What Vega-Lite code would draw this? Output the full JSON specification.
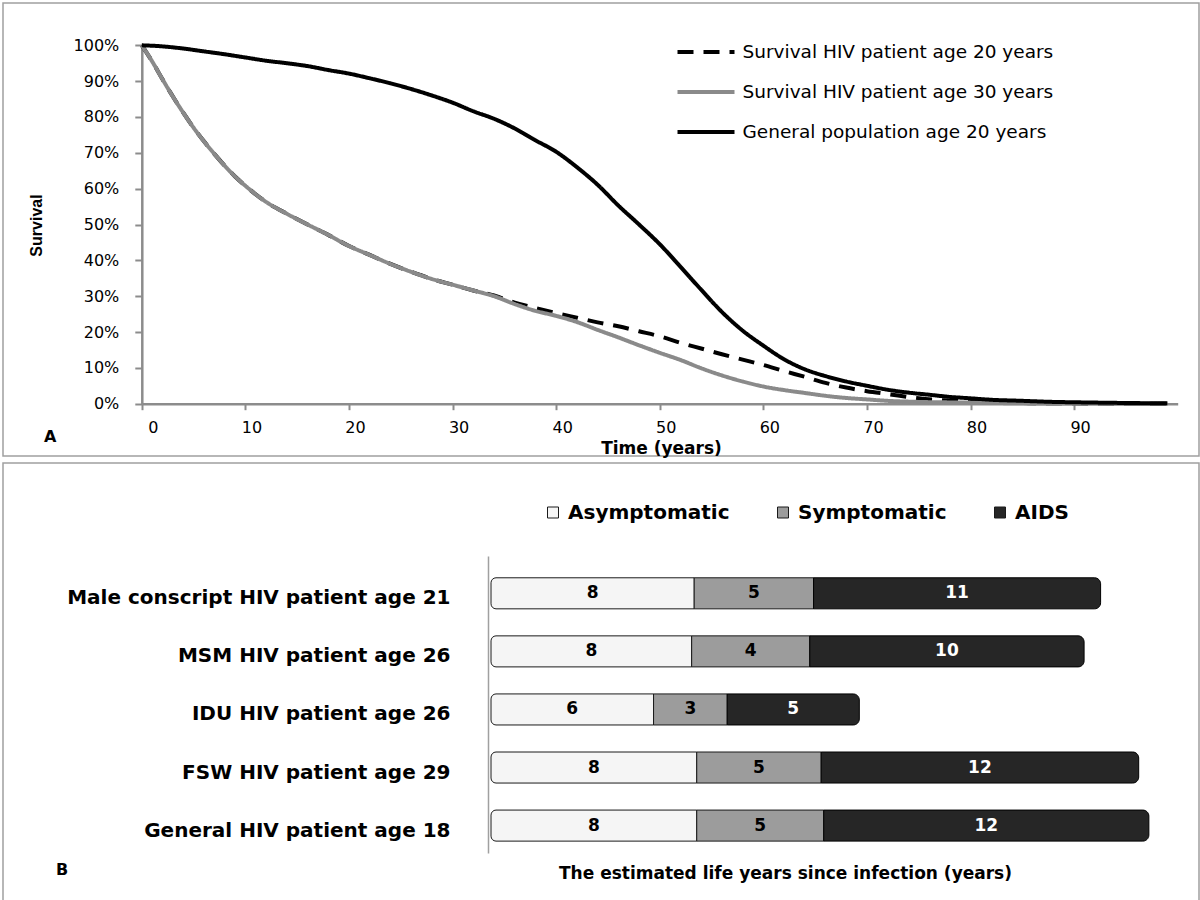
{
  "$schema": "https://vega.github.io/schema/vega-lite/v6.json",
  "background": "white",
  "padding": {"left": 2, "top": 2, "right": 0, "bottom": 0},
  "spacing": 5,
  "config": {
    "view": {"stroke": "#a0a0a0", "strokeWidth": 1.5},
    "axis": {"grid": false, "labelColor": "#000000", "titleColor": "#000000"},
    "legend": {"padding": 0}
  },
  "resolve": {"scale": {"x": "independent", "y": "independent"}},
  "vconcat": [
    {
      "width": 1196,
      "height": 453,
      "title": {"text": "A", "orient": "bottom", "anchor": "start", "frame": "group", "offset": 0, "dx": 41, "dy": -27, "font": "DejaVu Sans", "fontSize": 16, "fontWeight": "bold", "color": "#000000"},
      "data": {"values": [
        {"series": "Survival HIV patient age 20 years", "t": 0, "s": 1.0},
        {"series": "Survival HIV patient age 20 years", "t": 1, "s": 0.955},
        {"series": "Survival HIV patient age 20 years", "t": 2, "s": 0.905},
        {"series": "Survival HIV patient age 20 years", "t": 3, "s": 0.857},
        {"series": "Survival HIV patient age 20 years", "t": 4, "s": 0.812},
        {"series": "Survival HIV patient age 20 years", "t": 5, "s": 0.77},
        {"series": "Survival HIV patient age 20 years", "t": 6, "s": 0.732},
        {"series": "Survival HIV patient age 20 years", "t": 7, "s": 0.697},
        {"series": "Survival HIV patient age 20 years", "t": 8, "s": 0.664},
        {"series": "Survival HIV patient age 20 years", "t": 9, "s": 0.634},
        {"series": "Survival HIV patient age 20 years", "t": 10, "s": 0.608},
        {"series": "Survival HIV patient age 20 years", "t": 12, "s": 0.563},
        {"series": "Survival HIV patient age 20 years", "t": 14, "s": 0.53},
        {"series": "Survival HIV patient age 20 years", "t": 16, "s": 0.5},
        {"series": "Survival HIV patient age 20 years", "t": 18, "s": 0.471},
        {"series": "Survival HIV patient age 20 years", "t": 20, "s": 0.44},
        {"series": "Survival HIV patient age 20 years", "t": 22, "s": 0.415},
        {"series": "Survival HIV patient age 20 years", "t": 24, "s": 0.39},
        {"series": "Survival HIV patient age 20 years", "t": 26, "s": 0.368},
        {"series": "Survival HIV patient age 20 years", "t": 28, "s": 0.348},
        {"series": "Survival HIV patient age 20 years", "t": 30, "s": 0.332},
        {"series": "Survival HIV patient age 20 years", "t": 32, "s": 0.316},
        {"series": "Survival HIV patient age 20 years", "t": 34, "s": 0.302},
        {"series": "Survival HIV patient age 20 years", "t": 36, "s": 0.282},
        {"series": "Survival HIV patient age 20 years", "t": 38, "s": 0.267},
        {"series": "Survival HIV patient age 20 years", "t": 40, "s": 0.253},
        {"series": "Survival HIV patient age 20 years", "t": 42, "s": 0.24},
        {"series": "Survival HIV patient age 20 years", "t": 44, "s": 0.227},
        {"series": "Survival HIV patient age 20 years", "t": 46, "s": 0.216},
        {"series": "Survival HIV patient age 20 years", "t": 48, "s": 0.202},
        {"series": "Survival HIV patient age 20 years", "t": 50, "s": 0.188},
        {"series": "Survival HIV patient age 20 years", "t": 52, "s": 0.17},
        {"series": "Survival HIV patient age 20 years", "t": 54, "s": 0.154},
        {"series": "Survival HIV patient age 20 years", "t": 56, "s": 0.138},
        {"series": "Survival HIV patient age 20 years", "t": 58, "s": 0.123},
        {"series": "Survival HIV patient age 20 years", "t": 60, "s": 0.108},
        {"series": "Survival HIV patient age 20 years", "t": 62, "s": 0.091},
        {"series": "Survival HIV patient age 20 years", "t": 64, "s": 0.075},
        {"series": "Survival HIV patient age 20 years", "t": 66, "s": 0.058},
        {"series": "Survival HIV patient age 20 years", "t": 68, "s": 0.045},
        {"series": "Survival HIV patient age 20 years", "t": 70, "s": 0.035},
        {"series": "Survival HIV patient age 20 years", "t": 72, "s": 0.027},
        {"series": "Survival HIV patient age 20 years", "t": 75, "s": 0.015},
        {"series": "Survival HIV patient age 20 years", "t": 80, "s": 0.006},
        {"series": "Survival HIV patient age 20 years", "t": 85, "s": 0.002},
        {"series": "Survival HIV patient age 20 years", "t": 90, "s": 0.001},
        {"series": "Survival HIV patient age 20 years", "t": 95, "s": 0.0},
        {"series": "Survival HIV patient age 20 years", "t": 99, "s": 0.0},
        {"series": "Survival HIV patient age 30 years", "t": 0, "s": 1.0},
        {"series": "Survival HIV patient age 30 years", "t": 1, "s": 0.955},
        {"series": "Survival HIV patient age 30 years", "t": 2, "s": 0.905},
        {"series": "Survival HIV patient age 30 years", "t": 3, "s": 0.857},
        {"series": "Survival HIV patient age 30 years", "t": 4, "s": 0.812},
        {"series": "Survival HIV patient age 30 years", "t": 5, "s": 0.77},
        {"series": "Survival HIV patient age 30 years", "t": 6, "s": 0.732},
        {"series": "Survival HIV patient age 30 years", "t": 7, "s": 0.697},
        {"series": "Survival HIV patient age 30 years", "t": 8, "s": 0.664},
        {"series": "Survival HIV patient age 30 years", "t": 9, "s": 0.634},
        {"series": "Survival HIV patient age 30 years", "t": 10, "s": 0.608},
        {"series": "Survival HIV patient age 30 years", "t": 12, "s": 0.563},
        {"series": "Survival HIV patient age 30 years", "t": 14, "s": 0.53},
        {"series": "Survival HIV patient age 30 years", "t": 16, "s": 0.5},
        {"series": "Survival HIV patient age 30 years", "t": 18, "s": 0.471},
        {"series": "Survival HIV patient age 30 years", "t": 20, "s": 0.44},
        {"series": "Survival HIV patient age 30 years", "t": 22, "s": 0.415},
        {"series": "Survival HIV patient age 30 years", "t": 24, "s": 0.39},
        {"series": "Survival HIV patient age 30 years", "t": 26, "s": 0.368},
        {"series": "Survival HIV patient age 30 years", "t": 28, "s": 0.348},
        {"series": "Survival HIV patient age 30 years", "t": 30, "s": 0.332},
        {"series": "Survival HIV patient age 30 years", "t": 32, "s": 0.316},
        {"series": "Survival HIV patient age 30 years", "t": 34, "s": 0.3},
        {"series": "Survival HIV patient age 30 years", "t": 36, "s": 0.278},
        {"series": "Survival HIV patient age 30 years", "t": 38, "s": 0.259},
        {"series": "Survival HIV patient age 30 years", "t": 40, "s": 0.245},
        {"series": "Survival HIV patient age 30 years", "t": 42, "s": 0.228},
        {"series": "Survival HIV patient age 30 years", "t": 44, "s": 0.206},
        {"series": "Survival HIV patient age 30 years", "t": 46, "s": 0.185},
        {"series": "Survival HIV patient age 30 years", "t": 48, "s": 0.163},
        {"series": "Survival HIV patient age 30 years", "t": 50, "s": 0.142},
        {"series": "Survival HIV patient age 30 years", "t": 52, "s": 0.122},
        {"series": "Survival HIV patient age 30 years", "t": 54, "s": 0.099},
        {"series": "Survival HIV patient age 30 years", "t": 56, "s": 0.079},
        {"series": "Survival HIV patient age 30 years", "t": 58, "s": 0.062},
        {"series": "Survival HIV patient age 30 years", "t": 60, "s": 0.048},
        {"series": "Survival HIV patient age 30 years", "t": 62, "s": 0.038},
        {"series": "Survival HIV patient age 30 years", "t": 64, "s": 0.03},
        {"series": "Survival HIV patient age 30 years", "t": 66, "s": 0.022},
        {"series": "Survival HIV patient age 30 years", "t": 68, "s": 0.016},
        {"series": "Survival HIV patient age 30 years", "t": 70, "s": 0.012},
        {"series": "Survival HIV patient age 30 years", "t": 72, "s": 0.008},
        {"series": "Survival HIV patient age 30 years", "t": 75, "s": 0.005},
        {"series": "Survival HIV patient age 30 years", "t": 80, "s": 0.003},
        {"series": "Survival HIV patient age 30 years", "t": 85, "s": 0.001},
        {"series": "Survival HIV patient age 30 years", "t": 90, "s": 0.0005},
        {"series": "Survival HIV patient age 30 years", "t": 95, "s": 0.0},
        {"series": "Survival HIV patient age 30 years", "t": 99, "s": 0.0},
        {"series": "General population age 20 years", "t": 0, "s": 1.0},
        {"series": "General population age 20 years", "t": 2, "s": 0.997},
        {"series": "General population age 20 years", "t": 4, "s": 0.991},
        {"series": "General population age 20 years", "t": 6, "s": 0.983},
        {"series": "General population age 20 years", "t": 8, "s": 0.975},
        {"series": "General population age 20 years", "t": 10, "s": 0.966},
        {"series": "General population age 20 years", "t": 12, "s": 0.957},
        {"series": "General population age 20 years", "t": 14, "s": 0.95},
        {"series": "General population age 20 years", "t": 16, "s": 0.942},
        {"series": "General population age 20 years", "t": 18, "s": 0.931},
        {"series": "General population age 20 years", "t": 20, "s": 0.921},
        {"series": "General population age 20 years", "t": 22, "s": 0.908},
        {"series": "General population age 20 years", "t": 24, "s": 0.894},
        {"series": "General population age 20 years", "t": 26, "s": 0.878},
        {"series": "General population age 20 years", "t": 28, "s": 0.86},
        {"series": "General population age 20 years", "t": 30, "s": 0.84},
        {"series": "General population age 20 years", "t": 32, "s": 0.816},
        {"series": "General population age 20 years", "t": 34, "s": 0.795},
        {"series": "General population age 20 years", "t": 36, "s": 0.768},
        {"series": "General population age 20 years", "t": 38, "s": 0.735},
        {"series": "General population age 20 years", "t": 40, "s": 0.703},
        {"series": "General population age 20 years", "t": 42, "s": 0.66},
        {"series": "General population age 20 years", "t": 44, "s": 0.611},
        {"series": "General population age 20 years", "t": 46, "s": 0.553},
        {"series": "General population age 20 years", "t": 48, "s": 0.5},
        {"series": "General population age 20 years", "t": 50, "s": 0.445},
        {"series": "General population age 20 years", "t": 52, "s": 0.382},
        {"series": "General population age 20 years", "t": 54, "s": 0.318},
        {"series": "General population age 20 years", "t": 56, "s": 0.256},
        {"series": "General population age 20 years", "t": 58, "s": 0.204},
        {"series": "General population age 20 years", "t": 60, "s": 0.162},
        {"series": "General population age 20 years", "t": 62, "s": 0.124},
        {"series": "General population age 20 years", "t": 64, "s": 0.096},
        {"series": "General population age 20 years", "t": 66, "s": 0.077},
        {"series": "General population age 20 years", "t": 68, "s": 0.062},
        {"series": "General population age 20 years", "t": 70, "s": 0.05},
        {"series": "General population age 20 years", "t": 72, "s": 0.039},
        {"series": "General population age 20 years", "t": 74, "s": 0.031},
        {"series": "General population age 20 years", "t": 76, "s": 0.025},
        {"series": "General population age 20 years", "t": 78, "s": 0.019},
        {"series": "General population age 20 years", "t": 80, "s": 0.015},
        {"series": "General population age 20 years", "t": 82, "s": 0.011},
        {"series": "General population age 20 years", "t": 85, "s": 0.008},
        {"series": "General population age 20 years", "t": 88, "s": 0.005},
        {"series": "General population age 20 years", "t": 90, "s": 0.004},
        {"series": "General population age 20 years", "t": 95, "s": 0.002},
        {"series": "General population age 20 years", "t": 99, "s": 0.001}
      ]},
      "mark": {"type": "line", "strokeWidth": 4, "interpolate": "monotone", "strokeCap": "butt"},
      "encoding": {
        "x": {
          "field": "t", "type": "quantitative",
          "scale": {"domain": [0, 100], "range": [138.8, 1174.7], "nice": false, "zero": false},
          "axis": {
            "values": [0, 10, 20, 30, 40, 50, 60, 70, 80, 90],
            "offset": -52.3,
            "domainColor": "#8c8c8c", "domainWidth": 2.5,
            "tickColor": "#8c8c8c", "tickWidth": 2, "tickSize": 6,
            "labelFont": "DejaVu Sans", "labelFontSize": 16, "labelPadding": 10, "labelOffset": 6,
            "title": "Time (years)", "titleFont": "DejaVu Sans", "titleFontSize": 17, "titleFontWeight": "bold",
            "titleX": 658, "titleY": 44.5, "titleBaseline": "middle", "titleAlign": "center"
          }
        },
        "y": {
          "field": "s", "type": "quantitative",
          "scale": {"domain": [0, 1], "range": [400.7, 42.3], "nice": false, "zero": false},
          "axis": {
            "values": [0, 0.1, 0.2, 0.3, 0.4, 0.5, 0.6, 0.7, 0.8, 0.9, 1.0],
            "format": ".0%",
            "offset": -138.8,
            "domainColor": "#8c8c8c", "domainWidth": 2.5,
            "tickColor": "#8c8c8c", "tickWidth": 2, "tickSize": 7,
            "labelFont": "DejaVu Sans", "labelFontSize": 16, "labelPadding": 16,
            "title": "Survival", "titleFont": "Liberation Sans", "titleFontSize": 16, "titleFontWeight": "bold",
            "titleX": -105.8, "titleY": 222, "titleAlign": "center", "titleBaseline": "middle"
          }
        },
        "stroke": {
          "field": "series", "type": "nominal",
          "scale": {"domain": ["Survival HIV patient age 20 years", "Survival HIV patient age 30 years", "General population age 20 years"], "range": ["#000000", "#8a8a8a", "#000000"]},
          "legend": {"title": null, "orient": "none", "legendX": 672.5, "legendY": 18.5, "direction": "vertical", "symbolType": "stroke", "symbolSize": 3249, "symbolStrokeWidth": 4, "labelFont": "DejaVu Sans", "labelFontSize": 18.5, "labelColor": "#000000", "labelOffset": 6, "rowPadding": -18.5, "labelLimit": 500}
        },
        "strokeDash": {
          "field": "series", "type": "nominal",
          "scale": {"domain": ["Survival HIV patient age 20 years", "Survival HIV patient age 30 years", "General population age 20 years"], "range": [[16, 10], [1, 0], [1, 0]]},
          "legend": {"title": null, "orient": "none", "legendX": 672.5, "legendY": 18.5, "direction": "vertical", "symbolType": "stroke", "symbolSize": 3249, "symbolStrokeWidth": 4, "labelFont": "DejaVu Sans", "labelFontSize": 18.5, "labelColor": "#000000", "labelOffset": 6, "rowPadding": -18.5, "labelLimit": 500}
        }
      }
    },
    {
      "width": 1196,
      "height": 438,
      "title": {"text": "B", "orient": "bottom", "anchor": "start", "frame": "group", "offset": 0, "dx": 53, "dy": -39, "font": "DejaVu Sans", "fontSize": 16, "fontWeight": "bold", "color": "#000000"},
      "data": {"values": [
        {"group": "Male conscript HIV patient age 21", "stage": "Asymptomatic", "years": 8.0, "label": "8"},
        {"group": "Male conscript HIV patient age 21", "stage": "Symptomatic", "years": 4.7, "label": "5"},
        {"group": "Male conscript HIV patient age 21", "stage": "AIDS", "years": 11.3, "label": "11"},
        {"group": "MSM HIV patient age 26", "stage": "Asymptomatic", "years": 7.9, "label": "8"},
        {"group": "MSM HIV patient age 26", "stage": "Symptomatic", "years": 4.65, "label": "4"},
        {"group": "MSM HIV patient age 26", "stage": "AIDS", "years": 10.8, "label": "10"},
        {"group": "IDU HIV patient age 26", "stage": "Asymptomatic", "years": 6.4, "label": "6"},
        {"group": "IDU HIV patient age 26", "stage": "Symptomatic", "years": 2.9, "label": "3"},
        {"group": "IDU HIV patient age 26", "stage": "AIDS", "years": 5.2, "label": "5"},
        {"group": "FSW HIV patient age 29", "stage": "Asymptomatic", "years": 8.1, "label": "8"},
        {"group": "FSW HIV patient age 29", "stage": "Symptomatic", "years": 4.9, "label": "5"},
        {"group": "FSW HIV patient age 29", "stage": "AIDS", "years": 12.5, "label": "12"},
        {"group": "General HIV patient age 18", "stage": "Asymptomatic", "years": 8.1, "label": "8"},
        {"group": "General HIV patient age 18", "stage": "Symptomatic", "years": 5.0, "label": "5"},
        {"group": "General HIV patient age 18", "stage": "AIDS", "years": 12.8, "label": "12"}
      ]},
      "transform": [{"stack": "years", "groupby": ["group"], "as": ["x0", "x1"]}],
      "encoding": {
        "y": {
          "field": "group", "type": "nominal",
          "scale": {"type": "band", "domain": ["Male conscript HIV patient age 21", "MSM HIV patient age 26", "IDU HIV patient age 26", "FSW HIV patient age 29", "General HIV patient age 18"], "range": [93, 390], "paddingInner": 0.4655, "paddingOuter": 0.29, "align": 0.647},
          "axis": {"title": null, "offset": -485, "domainColor": "#a0a0a0", "domainWidth": 1.5, "ticks": false, "tickSize": 0, "labelFont": "DejaVu Sans", "labelFontWeight": "bold", "labelFontSize": 20, "labelPadding": 38, "labelOffset": 5, "labelLimit": 1000}
        }
      },
      "layer": [
        {
          "transform": [{"filter": "datum.stage === 'Asymptomatic'"}],
          "mark": {"type": "bar", "stroke": "#1a1a1a", "strokeWidth": 1, "cornerRadiusTopLeft": 5, "cornerRadiusBottomLeft": 5},
          "encoding": {
            "x": {
              "field": "x0", "type": "quantitative",
              "scale": {"domain": [0, 28], "range": [488, 1199.2], "nice": false, "zero": false},
              "axis": {"domain": false, "ticks": false, "labels": false, "title": "The estimated life years since infection (years)", "titleFont": "DejaVu Sans", "titleFontSize": 17, "titleFontWeight": "bold", "titleX": 782, "titleY": -28, "titleBaseline": "middle", "titleAlign": "center"}
            },
            "x2": {"field": "x1"},
            "fill": {"field": "stage", "type": "nominal",
              "scale": {"domain": ["Asymptomatic", "Symptomatic", "AIDS"], "range": ["#f5f5f5", "#9c9c9c", "#262626"]},
              "legend": {"title": null, "orient": "none", "direction": "horizontal", "columns": 3, "legendX": 540, "legendY": 499.5, "symbolType": "square", "symbolSize": 121, "symbolStrokeColor": "#000000", "symbolStrokeWidth": 1, "labelFont": "DejaVu Sans", "labelFontWeight": "bold", "labelFontSize": 20, "labelColor": "#000000", "labelOffset": 5, "columnPadding": 43, "labelLimit": 400}}
          }
        },
        {
          "transform": [{"filter": "datum.stage === 'Symptomatic'"}],
          "mark": {"type": "bar", "stroke": "#1a1a1a", "strokeWidth": 1},
          "encoding": {
            "x": {"field": "x0", "type": "quantitative", "title": "The estimated life years since infection (years)"},
            "x2": {"field": "x1"},
            "fill": {"field": "stage", "type": "nominal",
              "scale": {"domain": ["Asymptomatic", "Symptomatic", "AIDS"], "range": ["#f5f5f5", "#9c9c9c", "#262626"]}}
          }
        },
        {
          "transform": [{"filter": "datum.stage === 'AIDS'"}],
          "mark": {"type": "bar", "stroke": "#000000", "strokeWidth": 1, "cornerRadiusTopRight": 6, "cornerRadiusBottomRight": 6},
          "encoding": {
            "x": {"field": "x0", "type": "quantitative", "title": "The estimated life years since infection (years)"},
            "x2": {"field": "x1"},
            "fill": {"field": "stage", "type": "nominal",
              "scale": {"domain": ["Asymptomatic", "Symptomatic", "AIDS"], "range": ["#f5f5f5", "#9c9c9c", "#262626"]}}
          }
        },
        {
          "transform": [{"fold": ["x0", "x1"], "as": ["edge", "pos"]}],
          "mark": {"type": "text", "font": "DejaVu Sans", "fontSize": 17, "fontWeight": "bold", "baseline": "middle", "align": "center"},
          "encoding": {
            "x": {"aggregate": "mean", "field": "pos", "type": "quantitative", "title": "The estimated life years since infection (years)"},
            "detail": {"field": "stage", "type": "nominal"},
            "text": {"field": "label", "type": "nominal"},
            "color": {"condition": {"test": "datum.stage === 'AIDS'", "value": "#ffffff"}, "value": "#000000"}
          }
        }
      ]
    }
  ]
}
